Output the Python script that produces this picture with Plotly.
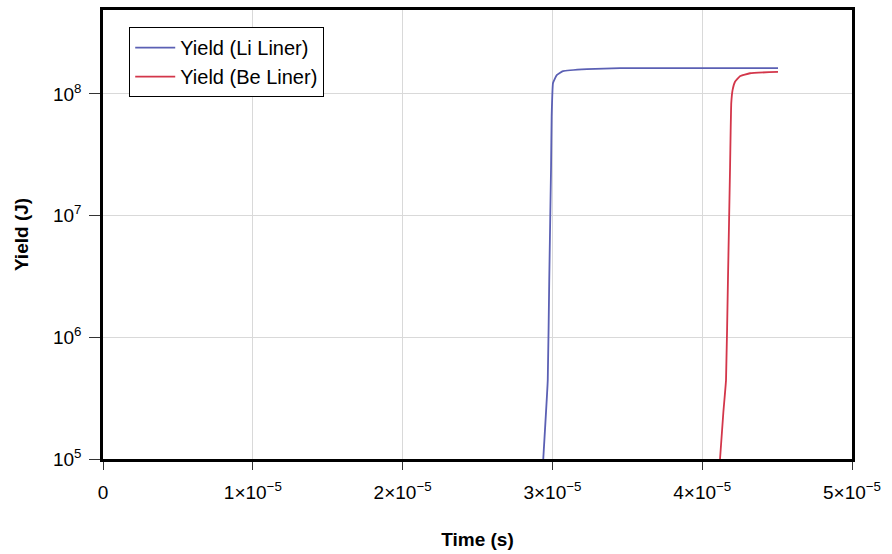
import plotly.graph_objects as go

# Li liner yield curve (time in s, yield in J)
li_time = [2.939e-5, 2.969e-5, 2.979e-5, 2.991e-5, 2.995e-5, 3.004e-5, 3.029e-5, 3.071e-5,
           3.231e-5, 3.451e-5, 4.506e-5]
li_yield = [1.0e5, 4.45e5, 3.0e6, 2.5e7, 6.5e7, 1.23e8, 1.43e8, 1.54e8,
            1.60e8, 1.63e8, 1.63e8]

# Be liner yield curve
be_time = [4.119e-5, 4.141e-5, 4.159e-5, 4.172e-5, 4.186e-5, 4.190e-5, 4.194e-5, 4.203e-5,
           4.219e-5, 4.252e-5, 4.319e-5, 4.506e-5]
be_yield = [1.0e5, 2.4e5, 4.45e5, 3.0e6, 2.5e7, 5.0e7, 8.4e7, 1.08e8,
            1.26e8, 1.40e8, 1.48e8, 1.52e8]

x_ticks = [0, 1e-5, 2e-5, 3e-5, 4e-5, 5e-5]
x_labels = ["0", "1×10<sup>−5</sup>", "2×10<sup>−5</sup>", "3×10<sup>−5</sup>",
            "4×10<sup>−5</sup>", "5×10<sup>−5</sup>"]
y_ticks = [1e5, 1e6, 1e7, 1e8]
y_labels = ["10<sup>5</sup>", "10<sup>6</sup>", "10<sup>7</sup>", "10<sup>8</sup>"]

fig = go.Figure()
fig.add_trace(go.Scatter(x=li_time, y=li_yield, mode="lines", name="Yield (Li Liner)",
                         line=dict(color="#5b60b4", width=1.8, shape="spline", smoothing=0.3)))
fig.add_trace(go.Scatter(x=be_time, y=be_yield, mode="lines", name="Yield (Be Liner)",
                         line=dict(color="#d3364a", width=1.8, shape="spline", smoothing=0.3)))

font = "Liberation Sans, Arial, sans-serif"
fig.update_layout(
    width=892, height=554,
    margin=dict(l=103, r=40, t=10, b=95),
    paper_bgcolor="white", plot_bgcolor="white",
    font=dict(family=font, size=19, color="black"),
    legend=dict(x=0.035, y=0.962, xanchor="left", yanchor="top",
                bgcolor="white", bordercolor="black", borderwidth=1,
                font=dict(size=20), itemwidth=40),
    xaxis=dict(range=[0, 5e-5], tickvals=x_ticks, ticktext=x_labels,
               showgrid=True, gridcolor="#d9d9d9", gridwidth=1,
               showline=True, linecolor="black", linewidth=2.5, mirror=True,
               ticks="outside", ticklen=8, tickcolor="#333", tickwidth=1,
               ticklabelstandoff=6, tickfont=dict(size=19),
               zeroline=False, automargin=False,
               title=dict(text="<b>Time (s)</b>", font=dict(size=19), standoff=32)),
    yaxis=dict(type="log", range=[5, 8.69], tickvals=y_ticks, ticktext=y_labels,
               showgrid=True, gridcolor="#d9d9d9", gridwidth=1,
               showline=True, linecolor="black", linewidth=2.5, mirror=True,
               ticks="outside", ticklen=11, tickcolor="#333", tickwidth=1,
               ticklabelstandoff=4, tickfont=dict(size=19),
               zeroline=False, automargin=False,
               title=dict(text="<b>Yield (J)</b>", font=dict(size=19), standoff=20)),
)

fig.write_html("out.html")
